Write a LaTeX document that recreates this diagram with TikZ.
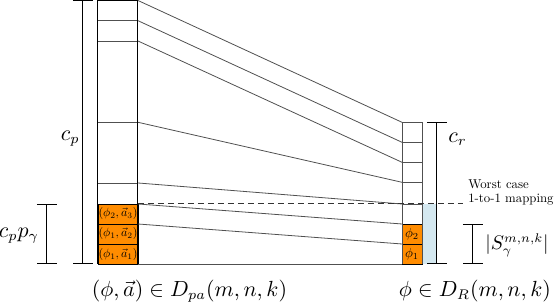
\documentclass[tikz,border=0pt]{standalone}
\usepackage{amsmath}
\usetikzlibrary{arrows.meta}
\definecolor{boxorange}{RGB}{255,140,0}
\definecolor{paleblue}{RGB}{212,232,240}
\definecolor{linegray}{RGB}{80,80,80}
\begin{document}
\begin{tikzpicture}[x=0.5pt,y=-0.5pt,
  conn/.style={draw=linegray,line width=0.4pt},
  cellline/.style={draw=linegray,line width=0.4pt},
  colframe/.style={draw=black,line width=0.5pt},
  obox/.style={draw=black,line width=0.4pt,fill=boxorange,inner sep=0pt,
    minimum width=20pt,minimum height=10pt},
  rbox/.style={obox,minimum width=10pt},
  boxtxt/.style={inner sep=0pt,scale=0.6},
  dimbar/.style={draw=black,line width=0.5pt,{Bar[width=10pt,line width=0.5pt]}-{Bar[width=10pt,line width=0.5pt]}},
  lbl/.style={font=\fontsize{10.5}{12}\selectfont,inner sep=0pt},
  note/.style={font=\fontsize{10}{11}\selectfont,align=left,inner sep=0pt,scale=0.64}
]
\useasboundingbox (0,0) rectangle (554,308);

% pale blue area
\fill[paleblue] (422,204) rectangle (437,264.5);

% left column orange boxes
\node[obox,minimum height=10.25pt] (a1) at (118,254.25) {};
\node[obox] (a2) at (118,234) {};
\node[obox] (a3) at (118,214) {};
\node[boxtxt] (t1) at (a1) {$(\phi_1,\vec{a}_1)$};
\node[boxtxt] (t2) at (a2) {$(\phi_1,\vec{a}_2)$};
\node[boxtxt] (t3) at (a3) {$(\phi_2,\vec{a}_3)$};

% right column orange boxes
\node[rbox,minimum height=10.25pt] (p1) at (412,254.25) {};
\node[rbox] (p2) at (412,234) {};
\node[boxtxt,scale=1.1] (u1) at (p1) {$\phi_1$};
\node[boxtxt,scale=1.1] (u2) at (p2) {$\phi_2$};

% left column coordinates
\foreach \n/\y in {0/0.5,1/20.7,2/41,6/122.3,9/183,10/204,11/224,12/244,13/264.5}{
  \coordinate (Ll\n) at (98,\y);
  \coordinate (Lr\n) at (138,\y);
}
% right column coordinates
\foreach \n/\y in {6/122.3,7/142.3,8/162.3,9/182.3,10/204,11/224,12/244,13/264.5}{
  \coordinate (Rl\n) at (402,\y);
  \coordinate (Rr\n) at (422,\y);
}

% left column lines
\foreach \n in {1,2,6,9}{\draw[cellline] (Ll\n) -- (Lr\n);}
\draw[colframe] (Ll0) -- (Lr0);
\draw[colframe] (Ll0) -- (Ll13) (Lr0) -- (Lr13);

% right column lines
\foreach \n in {7,8,9,10}{\draw[cellline] (Rl\n) -- (Rr\n);}
\draw[cellline] (Rl6) -- (Rr6) (Rl6) -- (Rl13) (Rr6) -- (Rr13);

% connectors
\draw[conn] (Lr0) -- (Rl6);
\draw[conn] (Lr1) -- (Rl7);
\draw[conn] (Lr2) -- (Rl8);
\draw[conn] (Lr6) -- (Rl9);
\draw[conn] (Lr9) -- (Rl10);
\draw[conn] (Lr10) -- (Rl11);
\draw[conn] (Lr11) -- (Rl12);
\draw[conn] (Lr13) -- (Rl13);

% worst case dashed line
\coordinate (wend) at (463,204);
\draw[black!80,line width=0.5pt,dash pattern=on 3pt off 2pt] (Lr10) -- (wend);
\node[note,anchor=west] (worst) at (468,192) {Worst case\\1-to-1 mapping};

% dimension bars
\coordinate (cpT) at (83,0.5);
\coordinate (cpB) at (83,264.5);
\draw[dimbar] (cpT) -- (cpB);
\node[lbl,anchor=east] (cp) at (80,139) {$c_p$};

\coordinate (cgT) at (47,204);
\coordinate (cgB) at (47,264.5);
\draw[dimbar] (cgT) -- (cgB);
\node[lbl] (cpg) at (19,236) {$c_p p_\gamma$};

\coordinate (crT) at (437,122.3);
\coordinate (crB) at (437,264.5);
\draw[dimbar] (crT) -- (crB);
\node[lbl,anchor=west] (cr) at (448,139) {$c_r$};

\coordinate (sT) at (473,224);
\coordinate (sB) at (473,264.5);
\draw[dimbar] (sT) -- (sB);
\node[lbl,anchor=east,scale=0.9] (sl) at (549,245) {$|S_\gamma^{m,n,k}|$};

% bottom labels
\node[lbl] (dpa) at (189.5,291) {$(\phi,\vec{a})\in D_{pa}(m,n,k)$};
\node[lbl] (dr) at (475,291) {$\phi\in D_R(m,n,k)$};
\end{tikzpicture}
\end{document}
